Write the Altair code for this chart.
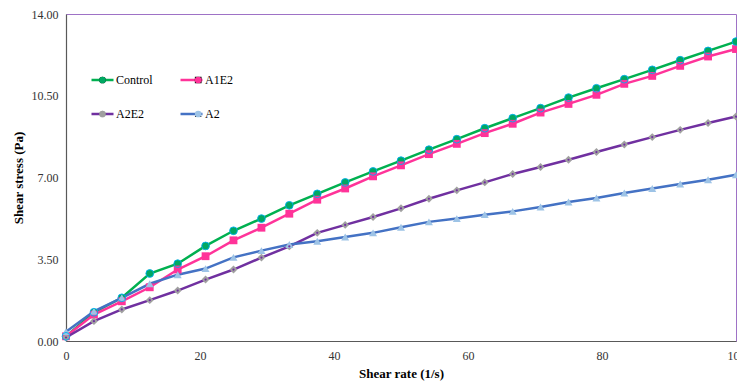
import altair as alt
import pandas as pd

# Shear rate (1/s)
shear_rate = [0, 4.17, 8.33, 12.5, 16.67, 20.83, 25, 29.17, 33.33, 37.5, 41.67, 45.83,
              50, 54.17, 58.33, 62.5, 66.67, 70.83, 75, 79.17, 83.33, 87.5, 91.67, 95.83, 100]

# Shear stress (Pa) per sample
control = [0.20, 1.23, 1.85, 2.89, 3.31, 4.07, 4.72, 5.24, 5.81, 6.30, 6.79, 7.26,
           7.72, 8.19, 8.64, 9.11, 9.54, 9.97, 10.42, 10.82, 11.21, 11.61, 12.02, 12.42, 12.82]
a1e2 = [0.20, 1.13, 1.70, 2.30, 3.06, 3.63, 4.31, 4.85, 5.45, 6.05, 6.53, 7.05,
        7.52, 8.00, 8.44, 8.90, 9.30, 9.78, 10.15, 10.54, 11.01, 11.35, 11.78, 12.18, 12.50]
a2e2 = [0.15, 0.85, 1.35, 1.75, 2.16, 2.63, 3.06, 3.57, 4.05, 4.63, 4.97, 5.31,
        5.68, 6.09, 6.45, 6.79, 7.15, 7.45, 7.76, 8.09, 8.41, 8.73, 9.04, 9.33, 9.61]
a2 = [0.40, 1.27, 1.85, 2.45, 2.84, 3.10, 3.58, 3.87, 4.13, 4.27, 4.45, 4.63,
      4.87, 5.10, 5.24, 5.41, 5.55, 5.74, 5.95, 6.12, 6.34, 6.53, 6.72, 6.90, 7.12]

series_names = ["Control", "A1E2", "A2E2", "A2"]
line_colors = ["#00B050", "#FF3399", "#7030A0", "#4472C4"]
marker_fills = ["#00A862", "#FF3399", "#A0A0A0", "#9DC3E6"]
marker_shapes = ["circle", "square", "diamond", "triangle-up"]
marker_sizes = [60, 64, 115, 110]

y_ticks = [0, 3.5, 7, 10.5, 14]
x_ticks = [0, 20, 40, 60, 80, 100]

rows = []
for name, vals in zip(series_names, [control, a1e2, a2e2, a2]):
    for r, s in zip(shear_rate, vals):
        rows.append({"rate": r, "stress": s, "series": name, "series_m": name})
df = pd.DataFrame(rows)

FONT = "Liberation Serif"

base = alt.Chart(df).encode(
    x=alt.X("rate:Q",
            scale=alt.Scale(domain=[0, 100], nice=False),
            axis=alt.Axis(title="Shear rate (1/s)", values=x_ticks, format="d",
                          ticks=False, grid=False, labelPadding=9, titlePadding=6,
                          labelFlush=False, labelOverlap=False,
                          labelFont=FONT, labelFontSize=12, titleFont=FONT)),
    y=alt.Y("stress:Q",
            scale=alt.Scale(domain=[0, 14], nice=False),
            axis=alt.Axis(title="Shear stress (Pa)", values=y_ticks, format=".2f",
                          ticks=False, grid=False, labelPadding=8, titlePadding=6,
                          labelFlush=False, labelOverlap=False,
                          labelFont=FONT, labelFontSize=12, titleFont=FONT)),
)

common_legend = dict(title=None, orient="none", legendX=24, legendY=56, columns=2,
                     direction="horizontal",
                     labelFont=FONT, labelFontSize=12, labelColor="#000000",
                     rowPadding=14, clipHeight=20, padding=0)

line_legend = alt.Legend(symbolType="stroke", symbolSize=484, symbolStrokeWidth=2.5,
                         labelOffset=1, columnPadding=26, **common_legend)
# marker-only legend overlaid on the line legend (no labels of its own)
marker_legend = alt.Legend(symbolSize=45, symbolOffset=6.5, labelOffset=14,
                           labelExpr="''", columnPadding=62.7,
                           symbolStrokeWidth=0, **common_legend)

lines = base.mark_line(strokeWidth=2.5).encode(
    stroke=alt.Stroke("series:N",
                      scale=alt.Scale(domain=series_names, range=line_colors),
                      legend=line_legend),
)

points = base.mark_point(filled=True, opacity=1).encode(
    shape=alt.Shape("series_m:N", sort=series_names,
                    scale=alt.Scale(range=marker_shapes),
                    legend=marker_legend),
    fill=alt.Fill("series_m:N", sort=series_names,
                  scale=alt.Scale(range=marker_fills),
                  legend=marker_legend),
    size=alt.Size("series_m:N", sort=series_names,
                  scale=alt.Scale(range=marker_sizes), legend=None),
)

rings = base.mark_point(shape="circle", filled=False, size=60, color="#00B0F0",
                        strokeWidth=1, opacity=0.9).transform_filter(
    alt.datum.series == "Control"
)

dots = base.mark_point(filled=True, opacity=1, size=5, color="#7030A0").transform_filter(
    alt.datum.series == "A2E2"
)

chart = alt.layer(lines, points, rings, dots).properties(
    width=670, height=327,
    autosize=alt.AutoSizeParams(type="none"),
    padding={"left": 58, "top": 6, "right": 1, "bottom": 44},
).configure_view(
    stroke="#9E72C6", strokeWidth=1
).configure_axis(
    labelFont=FONT, labelFontSize=12, labelColor="#333333",
    titleFont=FONT, titleFontSize=13, titleFontWeight="bold", titleColor="#000000",
    domainColor="#595959", domainWidth=1.2, zindex=1,
)

chart.save("out.html", embed_options={"renderer": "svg", "actions": False})
